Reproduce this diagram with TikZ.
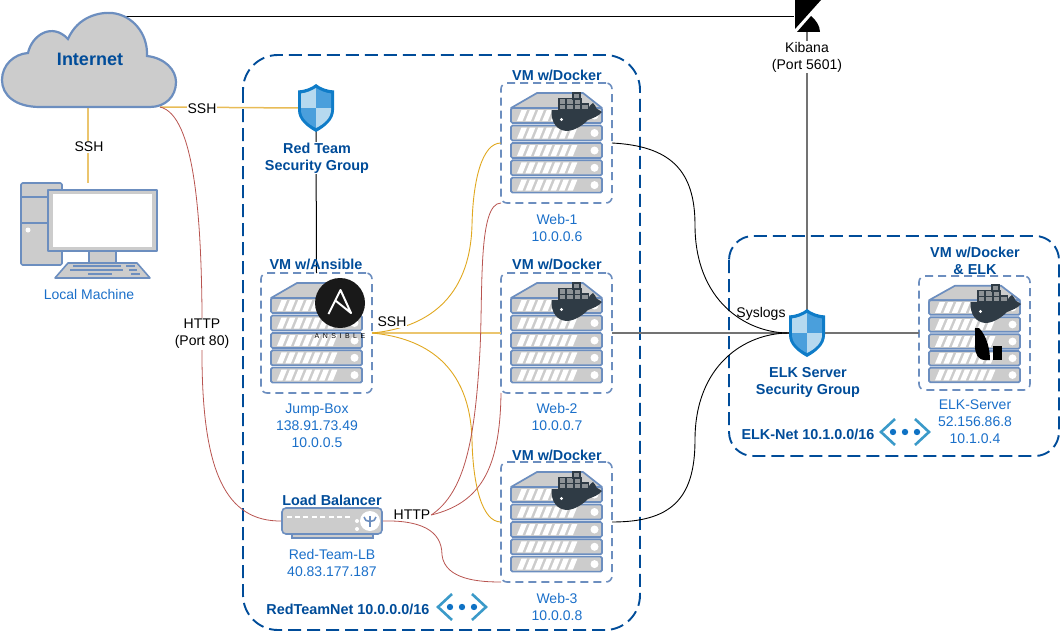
\documentclass[tikz,border=0pt]{standalone}
\usepackage{fontspec}
\setmainfont{Liberation Sans}
\definecolor{netblue}{HTML}{004C99}
\definecolor{textblue}{HTML}{1A6FC9}
\definecolor{slateblue}{HTML}{6C8EBF}
\definecolor{panelgray}{HTML}{CCCCCC}
\definecolor{thingold}{HTML}{E0A820}
\definecolor{widegold}{HTML}{EBC56E}
\definecolor{linkred}{HTML}{B85450}
\definecolor{whaledark}{HTML}{2F3B45}
\definecolor{shieldblue}{HTML}{0F7CC8}
\definecolor{shieldmid}{HTML}{4A9FDC}
\definecolor{shieldpale}{HTML}{B6D9EF}
\definecolor{chevronblue}{HTML}{3B9AC9}
\definecolor{dotblue}{HTML}{0F72C4}
\begin{document}
\begin{tikzpicture}[x=1pt,y=-1pt]
    \tikzset{
        every node/.style={font=\fontsize{14}{17}\selectfont,align=center,inner sep=0pt,outer sep=0pt},
        titlelabel/.style={text=netblue,font=\fontsize{14.4}{17}\selectfont\bfseries,yshift=-1pt},
        infolabel/.style={text=textblue,yshift=-1pt},
        linklabel/.style={text=black,fill=white,inner sep=1pt,yshift=-1pt},
        vmbox/.style={draw=slateblue,line width=1.6pt,dash pattern=on 8pt off 5pt,rounded corners=6pt,minimum width=111pt,minimum height=120pt},
        netbox/.style={draw=netblue,line width=1.9pt,dash pattern=on 13pt off 6pt},
        iconspot/.style={minimum width=36pt,minimum height=46pt},
        sshthin/.style={draw=thingold,line width=.9pt},
        sshwide/.style={draw=widegold,line width=2pt},
        httplink/.style={draw=linkred,line width=.8pt},
        sysloglink/.style={draw=black,line width=.9pt},
        graylink/.style={draw=black!55,line width=1.6pt},
        serverstack/.pic={
            \draw[fill=panelgray,draw=slateblue,line width=1.7pt,line join=round] (10,25) -- (36,10) -- (82,10) -- (101,25) -- cycle;
            \foreach \top in {25,42.5,60,77.3,94.6} {
                \draw[fill=panelgray,draw=slateblue,line width=1.7pt,rounded corners=1.5pt] (10,\top) rectangle (101,\top+15);
                \foreach \stripe in {0,...,6}
                    \fill[white] (16+8.4*\stripe,\top+13) -- (20.5+8.4*\stripe,\top+2) -- (26+8.4*\stripe,\top+2) -- (21.5+8.4*\stripe,\top+13) -- cycle;
                \fill[white] (93.5,\top+7.5) circle (4);
            }
        },
        whale/.pic={
            \foreach \cx/\cy in {58/21,65.5/21,73/21,80.5/21,58/15.5,65.5/15.5,73/15.5,72/10}
                \draw[fill=panelgray!60!whaledark,draw=whaledark,line width=1.1pt] (\cx,\cy) rectangle +(7,6);
            \fill[whaledark] (50.5,27) -- (87,27) .. controls (88,23) and (90,21) .. (92,20) .. controls (94,22) and (95,24) .. (95.5,25.5) -- (101,29) .. controls (98,33) and (92,35) .. (87,37) .. controls (80,44) and (72,48) .. (65,48) .. controls (56,47) and (50,40) .. cycle;
            \fill[white] (60.5,36.5) circle (1.6);
        },
        shieldicon/.pic={
            \fill[shieldblue] (0,-24) .. controls (-5,-20) and (-11,-18) .. (-18,-17.5) -- (-18,2) .. controls (-18,12) and (-9,19) .. (0,24) .. controls (9,19) and (18,12) .. (18,2) -- (18,-17.5) .. controls (11,-18) and (5,-20) .. cycle;
            \begin{scope}
                \clip (0,-20) .. controls (-5,-17) and (-10,-15) .. (-15,-14.5) -- (-15,2) .. controls (-15,10) and (-8,16) .. (0,20) .. controls (8,16) and (15,10) .. (15,2) -- (15,-14.5) .. controls (10,-15) and (5,-17) .. cycle;
                \fill[shieldpale] (-16,-21) rectangle (0,0);
                \fill[shieldmid] (0,-21) rectangle (16,0);
                \fill[shieldmid] (-16,0) rectangle (0,21);
                \fill[shieldpale] (0,0) rectangle (16,21);
            \end{scope}
        },
        neticon/.pic={
            \draw[chevronblue,line width=2.6pt] (-10,-13) -- (-24,0) -- (-10,13);
            \draw[chevronblue,line width=2.6pt] (10,-13) -- (24,0) -- (10,13);
            \foreach \dx in {-12,0,12}
                \fill[dotblue] (\dx,0) circle (3.2);
        },
    }
    \useasboundingbox (0,0) rectangle (1061,634);

    \coordinate (internetb) at (88,107);
    \coordinate (internetr) at (160,107);
    \coordinate (internett) at (124,16);

    \node[iconspot] (redsg) at (316,108) {};
    \node[iconspot] (elksg) at (807,333) {};
    \node[minimum width=26pt,minimum height=32pt] (kibana) at (807,16) {};
    \node[minimum width=136pt,minimum height=82pt] (local) at (89,224) {};

    \node[vmbox] (jump) at (316.5,333) {};
    \node[vmbox] (web1) at (556.5,143) {};
    \node[vmbox] (web2) at (556.5,333) {};
    \node[vmbox] (web3) at (556.5,522) {};
    \node[vmbox,minimum height=114pt] (elk) at (974.5,333) {};
    \node[minimum width=100pt,minimum height=26pt] (lb) at (332,521) {};
    \node[linklabel] (httplb) at (412,514) {HTTP};

    \draw[netbox,rounded corners=35pt] (243,55) rectangle (640,630);
    \draw[netbox,rounded corners=24pt] (729,236) rectangle (1059,456);

    \draw[sshwide] (internetb) -- (local.north -| internetb);
    \draw[sshwide,draw=widegold!70!thingold,line width=1.5pt] (internetr) -- (redsg.west);
    \draw[black,line width=1pt] (redsg.south) -- (jump.north);
    \draw[black,line width=.9pt] (internett) -- (kibana.west);
    \draw[graylink] (kibana.south) -- (elksg.north);
    \draw[sshwide] (jump.east) -- (web2.west);
    \draw[sshthin] (jump.east) .. controls (425,328) and (470,300) .. (472,225) .. controls (473,180) and (482,143) .. (web1.west);
    \draw[sshthin] (jump.east) .. controls (425,338) and (470,365) .. (472,440) .. controls (473,485) and (482,522) .. (web3.west);
    \draw[httplink] (internetr) .. controls (195,115) and (201,220) .. (202,310) -- (202,360) .. controls (203,470) and (225,522) .. (lb.west);
    \draw[httplink] (httplb.east) .. controls (480,503) and (500,470) .. (web2.south west);
    \draw[httplink] (httplb.east) .. controls (465,492) and (475,440) .. (480,350) .. controls (483,290) and (478,203) .. (web1.south west);
    \draw[httplink] (lb.east) .. controls (420,520) and (442,530) .. (442,555) .. controls (445,580) and (480,582) .. (web3.south west);
    \draw[graylink] (web2.east) -- (elksg.west);
    \draw[graylink] (elksg.east) -- (elk.west);
    \draw[sysloglink] (web1.east) .. controls (670,146) and (695,170) .. (695,225) .. controls (695,300) and (745,333) .. (elksg.west);
    \draw[sysloglink] (web3.east) .. controls (670,522) and (695,500) .. (695,440) .. controls (695,365) and (745,333) .. (elksg.west);

    \draw[fill=panelgray,draw=slateblue,line width=2.2pt] (40,107) .. controls (15,107) and (2,95) .. (2,80) .. controls (2,65) and (14,54) .. (28,53) .. controls (32,35) and (52,22) .. (68,39) .. controls (78,16) and (100,12) .. (112,13) .. controls (132,15) and (148,33) .. (147,56) .. controls (165,58) and (176,70) .. (176,82) .. controls (176,97) and (165,107) .. (150,107) -- cycle;
    \node[text=netblue,font=\fontsize{18}{20}\selectfont\bfseries] (internetlabel) at (90,59) {Internet};

    \begin{scope}[draw=slateblue,line width=1.6pt,line join=round]
        \draw[fill=panelgray,rounded corners=1.5pt] (21,183) rectangle (62,265);
        \draw (21,197) -- (48,197);
        \draw (21,223) -- (48,223);
        \fill[white] (28,230) circle (2.5);
        \draw[fill=panelgray] (89,251) rectangle (116,263);
        \draw[fill=panelgray] (48,190) rectangle (157,251);
        \fill[white] (53,194) rectangle (152,247);
        \draw[fill=panelgray] (55,278) -- (68,263) -- (137,263) -- (150,278) -- cycle;
        \foreach \ky/\kx/\kw in {266/73/48,266/126/9,270/70/53,270/129/8,274/88/24,274/131/9}
            \draw[line width=1.4pt] (\kx,\ky) -- +(\kw,0);
    \end{scope}

    \pic at (redsg.center) {shieldicon};
    \pic at (elksg.center) {shieldicon};
    \pic at (jump.north west) {serverstack};
    \pic at (web1.north west) {serverstack};
    \pic at (web2.north west) {serverstack};
    \pic at (web3.north west) {serverstack};
    \pic[yscale=.97] at (elk.north west) {serverstack};
    \pic at (web1.north west) {whale};
    \pic at (web2.north west) {whale};
    \pic at (web3.north west) {whale};
    \pic[xshift=1pt,yshift=1pt] at (elk.north west) {whale};

    \fill[black] (975,328) -- (979,328) .. controls (987,336) and (990,350) .. (990,360) -- (985,360) .. controls (978,360) and (975,354) .. (975,346) -- cycle;
    \fill[black] (993,346) rectangle (1002,360);

    \fill[black!90] (340,303) circle (25);
    \draw[white,line width=2pt,line join=round] (328.5,314) -- (340.5,290) -- (351,313) -- (336,301);
    \node[font=\fontsize{7}{8}\selectfont,text=black] (ansiblelogo) at (340,336) {A\,\,\,N\,\,\,S\,\,\,I\,\,\,B\,\,\,L\,\,\,E};

    \fill[black] (795,0) -- (821,0) -- (795,29) -- cycle;
    \fill[black] (797,32) -- (811,16) .. controls (816,20) and (820,26) .. (820,32) -- cycle;

    \draw[fill=panelgray,draw=slateblue,line width=1.4pt] (292,533) rectangle (373,538);
    \draw[fill=panelgray,draw=slateblue,line width=1.6pt,rounded corners=4pt] (lb.north west) rectangle (lb.south east);
    \foreach \dotx in {0,...,7}
        \fill[white] (286.5+8.4*\dotx,515.5) rectangle +(5,2.5);
    \fill[white] (357,521) circle (2);
    \fill[white] (357,529) circle (2);
    \fill[white] (370,521) circle (10);
    \draw[slateblue,line width=1.6pt] (370,516) -- (370,527);
    \draw[slateblue,line width=1.6pt] (364,517) .. controls (364,523) and (376,523) .. (376,517);

    \pic at (462,607) {neticon};
    \pic at (905,432) {neticon};

    \node[linklabel] (sshlocal) at (89,146) {SSH};
    \node[linklabel] (sshred) at (202,108) {SSH};
    \node[linklabel] (sshjump) at (392,321) {SSH};
    \node[linklabel,fill=none] (sysloglabel) at (761,313) {Syslogs};
    \node[linklabel] (kibanalabel) at (807,56) {Kibana\\(Port 5601)};
    \node[linklabel] (httpinet) at (202,333) {HTTP\\(Port 80)};

    \node[infolabel] (localname) at (89,293) {Local Machine};
    \node[titlelabel,fill=white,inner sep=1pt,yshift=-1pt] (redsgname) at (317,156) {Red Team\\Security Group};
    \node[titlelabel] (jumptitle) at (316,263) {VM w/Ansible};
    \node[infolabel] (jumpname) at (317,425) {Jump-Box\\138.91.73.49\\10.0.0.5};
    \node[titlelabel] (web1title) at (557,74) {VM w/Docker};
    \node[infolabel] (web1name) at (557,227) {Web-1\\10.0.0.6};
    \node[titlelabel] (web2title) at (557,263) {VM w/Docker};
    \node[infolabel] (web2name) at (557,416) {Web-2\\10.0.0.7};
    \node[titlelabel] (web3title) at (557,454) {VM w/Docker};
    \node[infolabel] (web3name) at (557,606) {Web-3\\10.0.0.8};
    \node[titlelabel] (lbtitle) at (332,499) {Load Balancer};
    \node[infolabel] (lbname) at (332,562) {Red-Team-LB\\40.83.177.187};
    \node[titlelabel] (rednet) at (348,608) {RedTeamNet 10.0.0.0/16};
    \node[titlelabel] (elknet) at (808,433) {ELK-Net 10.1.0.0/16};
    \node[titlelabel,yshift=-1pt] (elksgname) at (808,380) {ELK Server\\Security Group};
    \node[titlelabel] (elktitle) at (975,260) {VM w/Docker\\\& ELK};
    \node[infolabel] (elkname) at (975,421) {ELK-Server\\52.156.86.8\\10.1.0.4};
\end{tikzpicture}
\end{document}
